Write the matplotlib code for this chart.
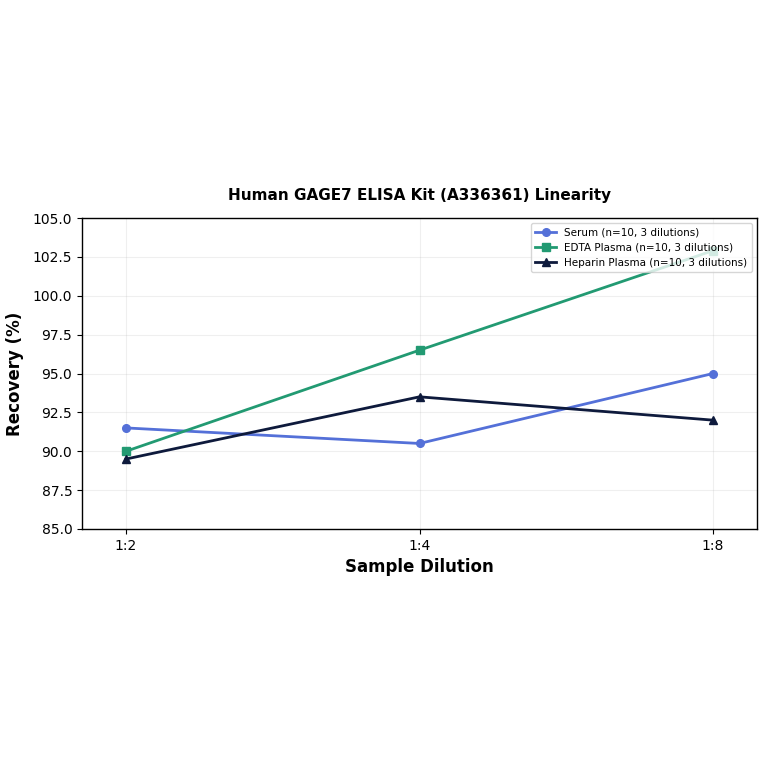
import matplotlib

matplotlib.use("Agg")
import matplotlib.pyplot as plt

dilutions = ["1:2", "1:4", "1:8"]
serum = [91.5, 90.5, 95.0]
edta = [90.0, 96.5, 102.9]
heparin = [89.5, 93.5, 92.0]

labels = [
    "Serum (n=10, 3 dilutions)",
    "EDTA Plasma (n=10, 3 dilutions)",
    "Heparin Plasma (n=10, 3 dilutions)",
]
colors = ["#5470d8", "#229a72", "#0e1a3c"]
markers = ["o", "s", "^"]

fig = plt.figure(figsize=(7.64, 7.64), dpi=100)
ax = fig.add_axes([82 / 764, 1 - 529 / 764, (757 - 82) / 764, (529 - 218) / 764])

x = range(len(dilutions))
for vals, lab, col, mk in zip([serum, edta, heparin], labels, colors, markers):
    ax.plot(x, vals, color=col, marker=mk, linewidth=2.0, markersize=5.5, label=lab)

ax.set_xticks(list(x))
ax.set_xticklabels(dilutions)
ax.set_xlim(-0.15, 2.15)
ax.set_ylim(85, 105)
ax.set_yticks([85, 87.5, 90, 92.5, 95, 97.5, 100, 102.5, 105])
ax.set_yticklabels([f"{v:.1f}" for v in ax.get_yticks()])
ax.tick_params(labelsize=10)
for s in ax.spines.values():
    s.set_linewidth(1.0)
ax.grid(True, alpha=0.2, linewidth=0.8)
ax.set_xlabel("Sample Dilution", fontsize=12, fontweight="bold", labelpad=4)
ax.set_ylabel("Recovery (%)", fontsize=12, fontweight="bold", labelpad=6)
ax.set_title("Human GAGE7 ELISA Kit (A336361) Linearity", fontsize=11,
             fontweight="bold", pad=13)
ax.legend(loc="upper right", fontsize=7.5)

fig.savefig("out.png", dpi=100)
